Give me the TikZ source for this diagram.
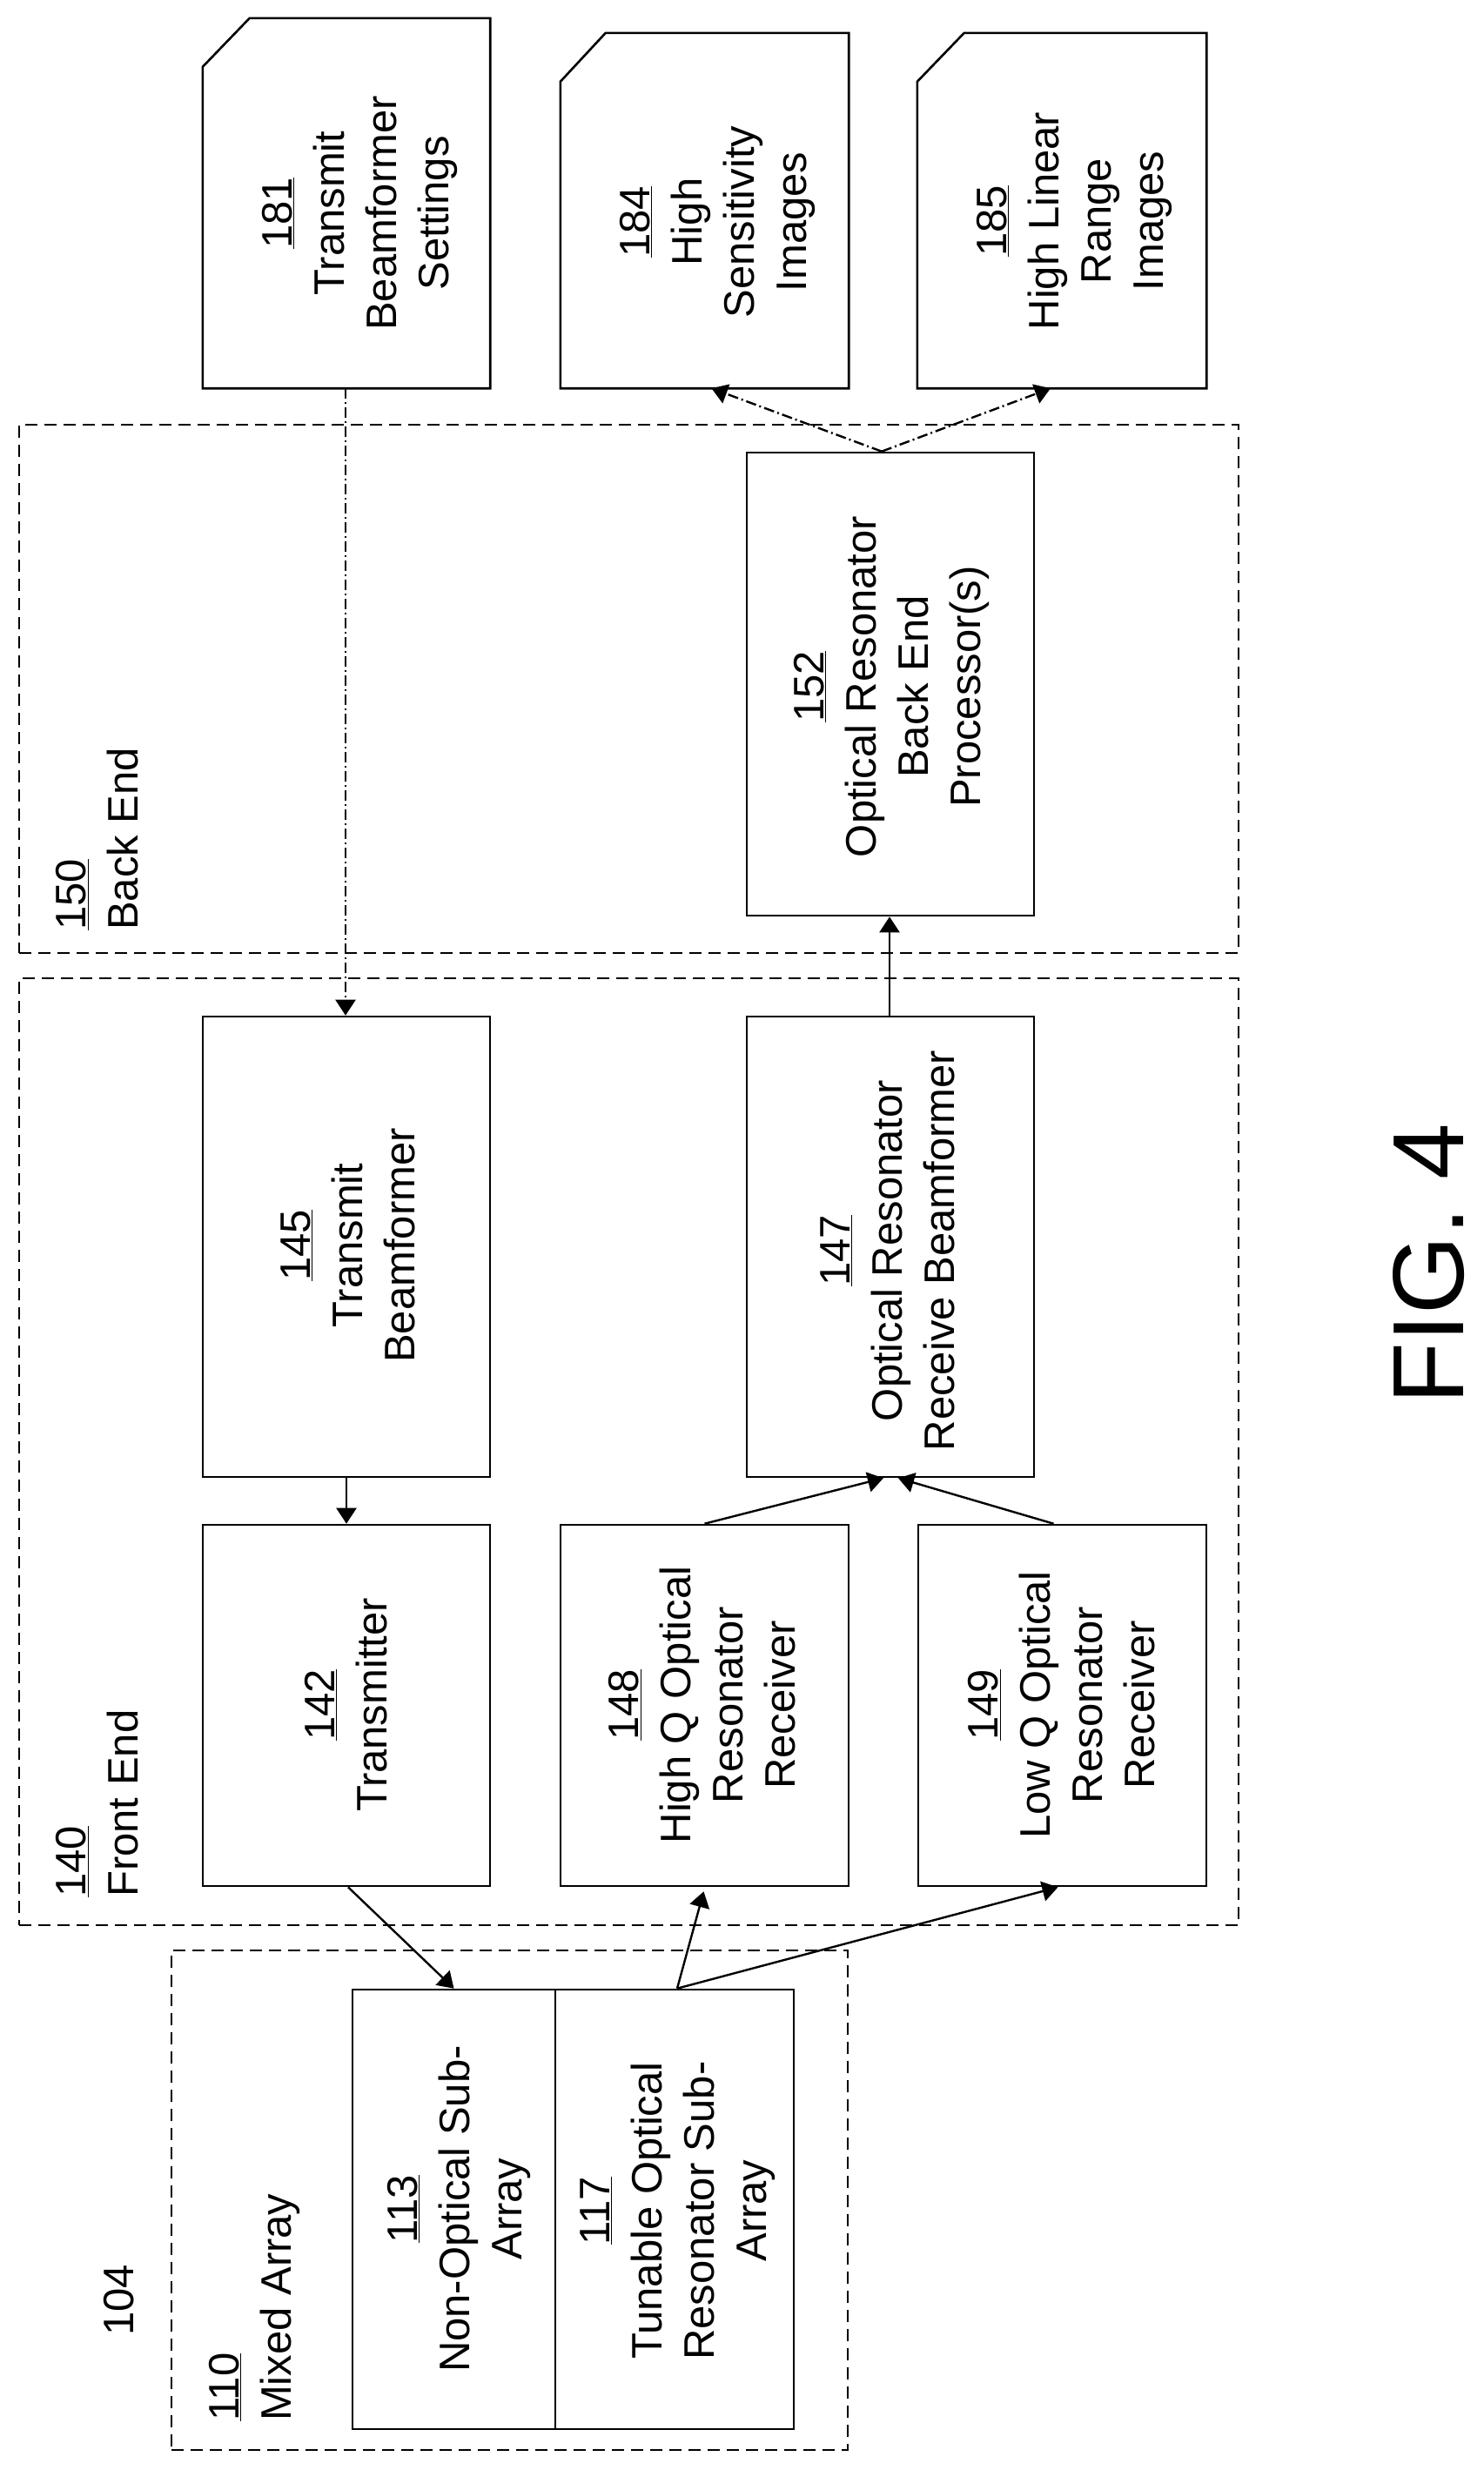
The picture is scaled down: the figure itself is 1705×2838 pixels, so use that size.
\documentclass[tikz,border=0pt]{standalone}
\usepackage{fontspec}
\setmainfont{Liberation Sans}
\usetikzlibrary{arrows.meta,calc}
\tikzset{
  lbl/.style={rotate=90,align=center,inner sep=0pt,font=\fontsize{49}{60}\selectfont},
  lblleft/.style={rotate=90,align=left,anchor=west,inner sep=0pt,font=\fontsize{49}{60}\selectfont},
  group/.style={draw=black,line width=2.8pt,dash pattern=on 14pt off 8pt},
  docedge/.style={draw=black,line width=2.6pt,line join=miter},
  conn/.style={line width=2.4pt,-{Triangle[length=18pt,width=23pt]}},
  connd/.style={conn,dash pattern=on 12pt off 4pt on 2pt off 4pt}
}
\newcommand{\boxat}[6]{\node[draw=black,line width=2.6pt,rectangle,inner sep=0pt,minimum width=#4 pt - #2 pt,minimum height=#5 pt - #3 pt,#6] (#1) at ({(#2+#4)/2},{(#3+#5)/2}) {};}
\newcommand{\docat}[5]{\node[inner sep=0pt,minimum width=#4 pt - #2 pt,minimum height=446 pt - #3 pt] (#1) at ({(#2+#4)/2},{(#3+446)/2}) {};
  \draw[docedge] ($(#1.north west)+(#5,0)$) -- (#1.north east) -- (#1.south east) -- (#1.south west) -- ($(#1.north west)+(0,56)$) -- cycle;}
\begin{document}
\begin{tikzpicture}[x=1pt,y=-1pt]
\useasboundingbox (0,0) rectangle (1705,2838);
% groups
\boxat{backend}{22}{488}{1423}{1095}{group}
\boxat{frontend}{22}{1124}{1423}{2212}{group}
\boxat{mixed}{197}{2241}{974}{2815}{group}
% documents
\docat{d181}{233}{21}{563}{54}
\docat{d184}{644}{38}{975}{52}
\docat{d185}{1054}{38}{1386}{54}
% boxes
\boxat{b152}{858}{520}{1188}{1052}{}
\boxat{b145}{233}{1168}{563}{1697}{}
\boxat{b147}{858}{1168}{1188}{1697}{}
\boxat{b142}{233}{1752}{563}{2167}{}
\boxat{b148}{644}{1752}{975}{2167}{}
\boxat{b149}{1055}{1752}{1386}{2167}{}
\boxat{b113}{405}{2286}{638}{2791}{}
\boxat{b117}{638}{2286}{912}{2791}{}
% labels
\node[lbl] (t181) at (413,245) {\underline{181}\\Transmit\\Beamformer\\Settings};
\node[lbl] (t184) at (824,255) {\underline{184}\\High\\Sensitivity\\Images};
\node[lbl] (t185) at (1234,254) {\underline{185}\\High Linear\\Range\\Images};
\node[lbl] (t152) at (1024,789) {\underline{152}\\Optical Resonator\\Back End\\Processor(s)};
\node[lbl] (t145) at (400,1431) {\underline{145}\\Transmit\\Beamformer};
\node[lbl] (t147) at (1020,1437) {\underline{147}\\Optical Resonator\\Receive Beamformer};
\node[lbl] (t142) at (398,1959) {\underline{142}\\Transmitter};
\node[lbl] (t148) at (807,1959) {\underline{148}\\High Q Optical\\Resonator\\Receiver};
\node[lbl] (t149) at (1220,1959) {\underline{149}\\Low Q Optical\\Resonator\\Receiver};
\node[lbl] (t113) at (527,2538) {\underline{113}\\Non-Optical Sub-\\Array};
\node[lbl] (t117) at (779,2540) {\underline{117}\\Tunable Optical\\Resonator Sub-\\Array};
\node[lblleft] (t110) at (292,2782) {\underline{110}\\Mixed Array};
\node[lblleft] (t140) at (112,2180) {\underline{140}\\Front End};
\node[lblleft] (t150) at (112,1069) {\underline{150}\\Back End};
\node[lbl] (t104) at (137,2643) {104};
\node[rotate=90,inner sep=0pt,font=\fontsize{116}{130}\selectfont] (fig) at (1642,1452) {FIG. 4};
% connectors
\draw[connd] ($(d181.south)+(-1,0)$) -- ($(b145.north)+(-1,0)$);
\draw[connd] ($(b152.north)+(-10,0)$) -- ($(d184.south)+(8,0)$);
\draw[connd] ($(b152.north)+(-10,0)$) -- ($(d185.south)+(-13,0)$);
\draw[conn] ($(b147.north)+(-1,0)$) -- ($(b152.south)+(-1,0)$);
\draw[conn] (b145.south) -- (b142.north);
\draw[conn] (b148.north) -- ($(b147.south)+(-8,0)$);
\draw[conn] ($(b149.north)-(10,0)$) -- ($(b147.south)+(9,0)$);
\draw[conn] ($(b142.south)+(2,0)$) -- (b113.north);
\draw[conn] ($(b117.north)+(3,0)$) -- ($(b148.south)+(-1,5)$);
\draw[conn] ($(b117.north)+(3,0)$) -- ($(b149.south)-(5,0)$);
\end{tikzpicture}
\end{document}
